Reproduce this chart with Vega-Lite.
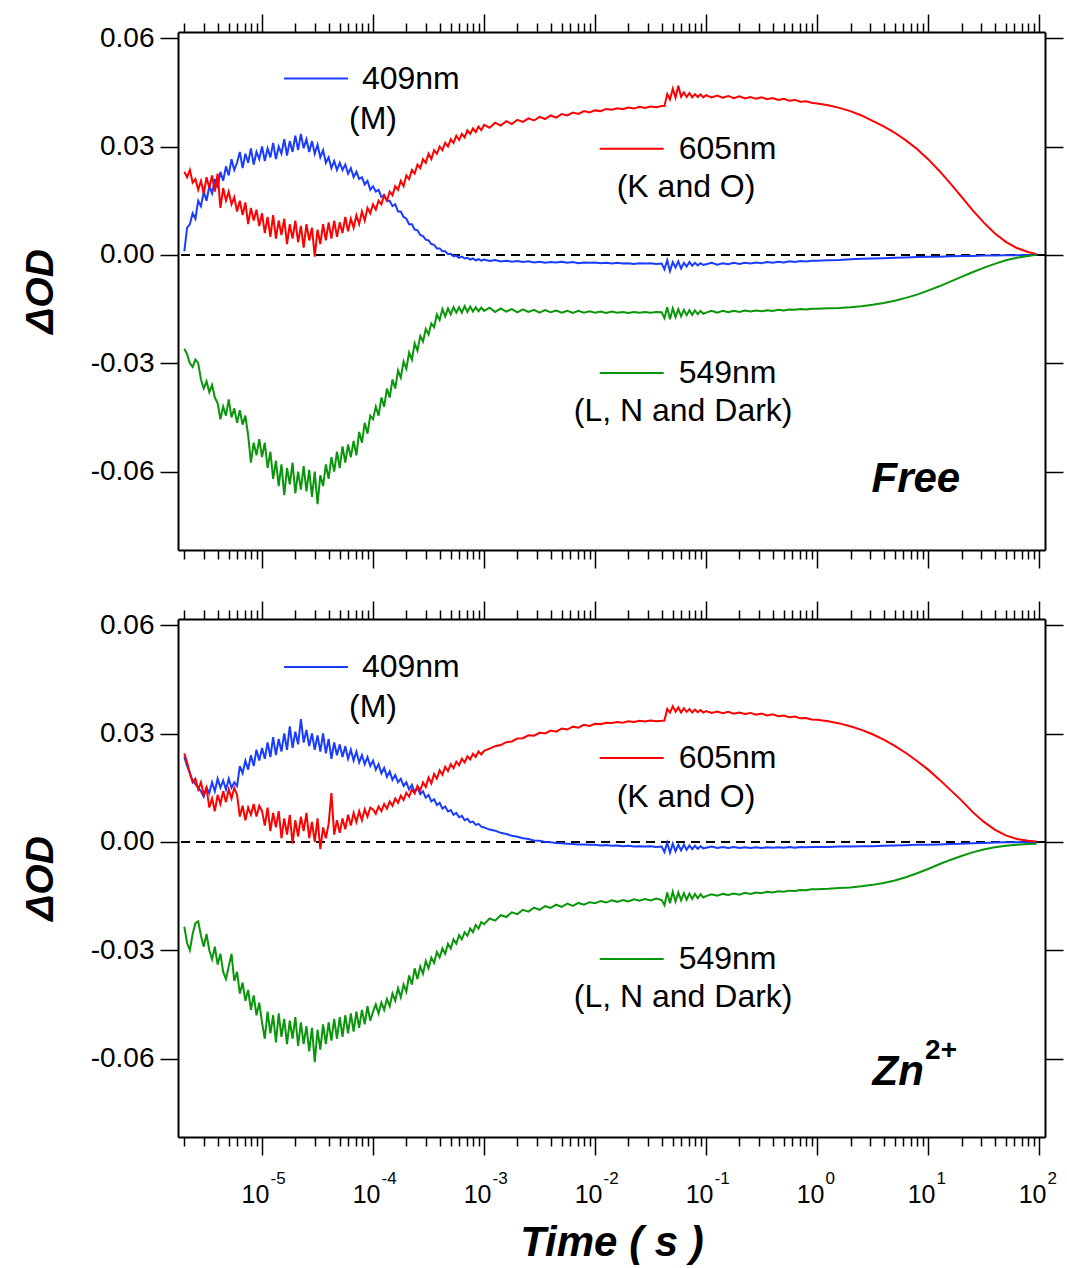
{
"$schema":"https://vega.github.io/schema/vega-lite/v6.json",
"background":"white",
"padding":{"left":21,"top":13,"right":0,"bottom":4},
"bounds":"flush",
"spacing":69,
"config":{"view":{"stroke":null},"axis":{"labelFont":"Liberation Sans","titleFont":"Liberation Sans"}},
"datasets":{
"zero":[{"v":0}],
"legs":[
{"panel":"free","k":"fb","t1":1.58e-5,"t2":5.94e-5,"v":0.0488},
{"panel":"free","k":"fr","t1":0.01101,"t2":0.0415,"v":0.0294},
{"panel":"free","k":"fg","t1":0.01101,"t2":0.0415,"v":-0.0327},
{"panel":"zn","k":"zb","t1":1.58e-5,"t2":5.94e-5,"v":0.0484},
{"panel":"zn","k":"zr","t1":0.01101,"t2":0.0415,"v":0.0232},
{"panel":"zn","k":"zg","t1":0.01101,"t2":0.0415,"v":-0.0324}],
"labs":[
{"panel":"free","t":7.94e-5,"v":0.0488,"label":"409nm"},
{"panel":"free","t":6.07e-5,"v":0.0377,"label":"(M)"},
{"panel":"free","t":0.0566,"v":0.0294,"label":"605nm"},
{"panel":"free","t":0.01566,"v":0.0188,"label":"(K and O)"},
{"panel":"free","t":0.0566,"v":-0.0327,"label":"549nm"},
{"panel":"free","t":0.00643,"v":-0.0432,"label":"(L, N and Dark)"},
{"panel":"zn","t":7.94e-5,"v":0.0484,"label":"409nm"},
{"panel":"zn","t":6.07e-5,"v":0.0373,"label":"(M)"},
{"panel":"zn","t":0.0566,"v":0.0232,"label":"605nm"},
{"panel":"zn","t":0.01566,"v":0.0124,"label":"(K and O)"},
{"panel":"zn","t":0.0566,"v":-0.0324,"label":"549nm"},
{"panel":"zn","t":0.00643,"v":-0.0429,"label":"(L, N and Dark)"}],
"tags":[{"panel":"free","t":3.09,"v":-0.062,"label":"Free"},{"panel":"zn","t":3.16,"v":-0.0636,"label":"Zn"}],
"sups":[{"panel":"zn","t":9.4,"v":-0.0578,"label":"2+"}],
"d":[
{"t":1.995e-6,"fb":0.0010,"fr":0.0230,"fg":-0.0260,"zb":0.0235,"zr":0.0245,"zg":-0.0235},
{"t":2.113e-6,"fb":0.0075,"fr":0.0215,"fg":-0.0275,"zb":0.0210,"zr":0.0220,"zg":-0.0280},
{"t":2.239e-6,"fb":0.0085,"fr":0.0235,"fg":-0.0300,"zb":0.0190,"zr":0.0190,"zg":-0.0300},
{"t":2.371e-6,"fb":0.0115,"fr":0.0200,"fg":-0.0310,"zb":0.0170,"zr":0.0165,"zg":-0.0255},
{"t":2.512e-6,"fb":0.0100,"fr":0.0210,"fg":-0.0290,"zb":0.0160,"zr":0.0175,"zg":-0.0225},
{"t":2.661e-6,"fb":0.0150,"fr":0.0180,"fg":-0.0300,"zb":0.0150,"zr":0.0145,"zg":-0.0220},
{"t":2.818e-6,"fb":0.0135,"fr":0.0205,"fg":-0.0345,"zb":0.0140,"zr":0.0165,"zg":-0.0260},
{"t":2.985e-6,"fb":0.0175,"fr":0.0170,"fg":-0.0370,"zb":0.0125,"zr":0.0130,"zg":-0.0290},
{"t":3.162e-6,"fb":0.0150,"fr":0.0215,"fg":-0.0350,"zb":0.0150,"zr":0.0150,"zg":-0.0255},
{"t":3.350e-6,"fb":0.0190,"fr":0.0185,"fg":-0.0380,"zb":0.0135,"zr":0.0095,"zg":-0.0300},
{"t":3.548e-6,"fb":0.0170,"fr":0.0220,"fg":-0.0360,"zb":0.0165,"zr":0.0120,"zg":-0.0325},
{"t":3.758e-6,"fb":0.0210,"fr":0.0175,"fg":-0.0395,"zb":0.0140,"zr":0.0085,"zg":-0.0290},
{"t":3.981e-6,"fb":0.0185,"fr":0.0225,"fg":-0.0410,"zb":0.0175,"zr":0.0130,"zg":-0.0340},
{"t":4.217e-6,"fb":0.0230,"fr":0.0130,"fg":-0.0455,"zb":0.0150,"zr":0.0105,"zg":-0.0310},
{"t":4.467e-6,"fb":0.0205,"fr":0.0185,"fg":-0.0420,"zb":0.0170,"zr":0.0140,"zg":-0.0360},
{"t":4.732e-6,"fb":0.0245,"fr":0.0150,"fg":-0.0445,"zb":0.0145,"zr":0.0110,"zg":-0.0380},
{"t":5.012e-6,"fb":0.0220,"fr":0.0175,"fg":-0.0400,"zb":0.0175,"zr":0.0145,"zg":-0.0345},
{"t":5.309e-6,"fb":0.0265,"fr":0.0140,"fg":-0.0450,"zb":0.0150,"zr":0.0120,"zg":-0.0310},
{"t":5.623e-6,"fb":0.0235,"fr":0.0160,"fg":-0.0425,"zb":0.0165,"zr":0.0150,"zg":-0.0385},
{"t":5.957e-6,"fb":0.0255,"fr":0.0120,"fg":-0.0465,"zb":0.0155,"zr":0.0130,"zg":-0.0360},
{"t":6.310e-6,"fb":0.0285,"fr":0.0150,"fg":-0.0430,"zb":0.0210,"zr":0.0070,"zg":-0.0420},
{"t":6.683e-6,"fb":0.0240,"fr":0.0110,"fg":-0.0470,"zb":0.0190,"zr":0.0100,"zg":-0.0390},
{"t":7.079e-6,"fb":0.0280,"fr":0.0145,"fg":-0.0445,"zb":0.0225,"zr":0.0060,"zg":-0.0440},
{"t":7.499e-6,"fb":0.0255,"fr":0.0085,"fg":-0.0500,"zb":0.0200,"zr":0.0095,"zg":-0.0410},
{"t":7.943e-6,"fb":0.0295,"fr":0.0130,"fg":-0.0575,"zb":0.0240,"zr":0.0075,"zg":-0.0465},
{"t":8.414e-6,"fb":0.0250,"fr":0.0095,"fg":-0.0520,"zb":0.0210,"zr":0.0105,"zg":-0.0425},
{"t":8.913e-6,"fb":0.0285,"fr":0.0125,"fg":-0.0555,"zb":0.0255,"zr":0.0070,"zg":-0.0480},
{"t":9.441e-6,"fb":0.0265,"fr":0.0080,"fg":-0.0510,"zb":0.0225,"zr":0.0100,"zg":-0.0445},
{"t":1.000e-5,"fb":0.0300,"fr":0.0115,"fg":-0.0560,"zb":0.0260,"zr":0.0085,"zg":-0.0500},
{"t":1.059e-5,"fb":0.0260,"fr":0.0060,"fg":-0.0520,"zb":0.0230,"zr":0.0045,"zg":-0.0545},
{"t":1.122e-5,"fb":0.0295,"fr":0.0105,"fg":-0.0590,"zb":0.0275,"zr":0.0095,"zg":-0.0470},
{"t":1.189e-5,"fb":0.0270,"fr":0.0050,"fg":-0.0545,"zb":0.0235,"zr":0.0030,"zg":-0.0530},
{"t":1.259e-5,"fb":0.0310,"fr":0.0110,"fg":-0.0620,"zb":0.0290,"zr":0.0080,"zg":-0.0480},
{"t":1.334e-5,"fb":0.0265,"fr":0.0045,"fg":-0.0570,"zb":0.0240,"zr":0.0040,"zg":-0.0555},
{"t":1.413e-5,"fb":0.0300,"fr":0.0095,"fg":-0.0640,"zb":0.0285,"zr":0.0085,"zg":-0.0475},
{"t":1.496e-5,"fb":0.0280,"fr":0.0055,"fg":-0.0580,"zb":0.0250,"zr":0.0010,"zg":-0.0540},
{"t":1.585e-5,"fb":0.0320,"fr":0.0100,"fg":-0.0665,"zb":0.0300,"zr":0.0065,"zg":-0.0490},
{"t":1.679e-5,"fb":0.0275,"fr":0.0030,"fg":-0.0590,"zb":0.0255,"zr":0.0020,"zg":-0.0560},
{"t":1.778e-5,"fb":0.0315,"fr":0.0085,"fg":-0.0635,"zb":0.0320,"zr":0.0075,"zg":-0.0495},
{"t":1.884e-5,"fb":0.0285,"fr":0.0045,"fg":-0.0575,"zb":0.0260,"zr":-0.0005,"zg":-0.0545},
{"t":1.995e-5,"fb":0.0330,"fr":0.0095,"fg":-0.0660,"zb":0.0305,"zr":0.0060,"zg":-0.0485},
{"t":2.113e-5,"fb":0.0290,"fr":0.0035,"fg":-0.0600,"zb":0.0270,"zr":0.0015,"zg":-0.0565},
{"t":2.239e-5,"fb":0.0335,"fr":0.0080,"fg":-0.0650,"zb":0.0340,"zr":0.0070,"zg":-0.0500},
{"t":2.371e-5,"fb":0.0295,"fr":0.0020,"fg":-0.0585,"zb":0.0275,"zr":0.0030,"zg":-0.0560},
{"t":2.512e-5,"fb":0.0320,"fr":0.0085,"fg":-0.0655,"zb":0.0310,"zr":0.0080,"zg":-0.0510},
{"t":2.661e-5,"fb":0.0285,"fr":0.0040,"fg":-0.0595,"zb":0.0265,"zr":0.0010,"zg":-0.0580},
{"t":2.818e-5,"fb":0.0315,"fr":0.0075,"fg":-0.0670,"zb":0.0300,"zr":0.0055,"zg":-0.0515},
{"t":2.985e-5,"fb":0.0280,"fr":-0.0005,"fg":-0.0600,"zb":0.0255,"zr":0.0000,"zg":-0.0610},
{"t":3.162e-5,"fb":0.0305,"fr":0.0070,"fg":-0.0690,"zb":0.0295,"zr":0.0065,"zg":-0.0520},
{"t":3.350e-5,"fb":0.0270,"fr":0.0030,"fg":-0.0610,"zb":0.0250,"zr":-0.0020,"zg":-0.0575},
{"t":3.548e-5,"fb":0.0290,"fr":0.0085,"fg":-0.0640,"zb":0.0300,"zr":0.0040,"zg":-0.0505},
{"t":3.758e-5,"fb":0.0255,"fr":0.0040,"fg":-0.0580,"zb":0.0245,"zr":0.0010,"zg":-0.0560},
{"t":3.981e-5,"fb":0.0270,"fr":0.0090,"fg":-0.0620,"zb":0.0285,"zr":0.0050,"zg":-0.0500},
{"t":4.217e-5,"fb":0.0240,"fr":0.0045,"fg":-0.0560,"zb":0.0230,"zr":0.0135,"zg":-0.0550},
{"t":4.467e-5,"fb":0.0260,"fr":0.0095,"fg":-0.0600,"zb":0.0275,"zr":0.0020,"zg":-0.0490},
{"t":4.732e-5,"fb":0.0235,"fr":0.0050,"fg":-0.0545,"zb":0.0240,"zr":0.0060,"zg":-0.0545},
{"t":5.012e-5,"fb":0.0255,"fr":0.0090,"fg":-0.0590,"zb":0.0270,"zr":0.0025,"zg":-0.0485},
{"t":5.309e-5,"fb":0.0235,"fr":0.0060,"fg":-0.0530,"zb":0.0235,"zr":0.0065,"zg":-0.0540},
{"t":5.623e-5,"fb":0.0250,"fr":0.0105,"fg":-0.0575,"zb":0.0265,"zr":0.0035,"zg":-0.0480},
{"t":5.957e-5,"fb":0.0225,"fr":0.0065,"fg":-0.0525,"zb":0.0230,"zr":0.0075,"zg":-0.0530},
{"t":6.310e-5,"fb":0.0240,"fr":0.0100,"fg":-0.0560,"zb":0.0255,"zr":0.0045,"zg":-0.0475},
{"t":6.683e-5,"fb":0.0215,"fr":0.0075,"fg":-0.0515,"zb":0.0225,"zr":0.0080,"zg":-0.0525},
{"t":7.079e-5,"fb":0.0230,"fr":0.0110,"fg":-0.0555,"zb":0.0250,"zr":0.0055,"zg":-0.0470},
{"t":7.499e-5,"fb":0.0210,"fr":0.0085,"fg":-0.0490,"zb":0.0220,"zr":0.0085,"zg":-0.0515},
{"t":7.943e-5,"fb":0.0215,"fr":0.0120,"fg":-0.0520,"zb":0.0240,"zr":0.0060,"zg":-0.0465},
{"t":8.414e-5,"fb":0.0195,"fr":0.0095,"fg":-0.0465,"zb":0.0215,"zr":0.0090,"zg":-0.0505},
{"t":8.913e-5,"fb":0.0205,"fr":0.0130,"fg":-0.0495,"zb":0.0235,"zr":0.0070,"zg":-0.0455},
{"t":9.441e-5,"fb":0.0180,"fr":0.0115,"fg":-0.0445,"zb":0.0210,"zr":0.0095,"zg":-0.0495},
{"t":1.000e-4,"fb":0.0190,"fr":0.0140,"fg":-0.0455,"zb":0.0225,"zr":0.0090,"zg":-0.0470},
{"t":1.059e-4,"fb":0.0175,"fr":0.0125,"fg":-0.0420,"zb":0.0200,"zr":0.0078,"zg":-0.0450},
{"t":1.122e-4,"fb":0.0180,"fr":0.0150,"fg":-0.0445,"zb":0.0215,"zr":0.0098,"zg":-0.0475},
{"t":1.189e-4,"fb":0.0160,"fr":0.0140,"fg":-0.0395,"zb":0.0190,"zr":0.0085,"zg":-0.0445},
{"t":1.259e-4,"fb":0.0165,"fr":0.0165,"fg":-0.0420,"zb":0.0205,"zr":0.0105,"zg":-0.0465},
{"t":1.334e-4,"fb":0.0150,"fr":0.0150,"fg":-0.0370,"zb":0.0180,"zr":0.0092,"zg":-0.0435},
{"t":1.413e-4,"fb":0.0150,"fr":0.0175,"fg":-0.0395,"zb":0.0195,"zr":0.0112,"zg":-0.0455},
{"t":1.496e-4,"fb":0.0135,"fr":0.0165,"fg":-0.0345,"zb":0.0172,"zr":0.0100,"zg":-0.0420},
{"t":1.585e-4,"fb":0.0140,"fr":0.0190,"fg":-0.0370,"zb":0.0185,"zr":0.0120,"zg":-0.0440},
{"t":1.679e-4,"fb":0.0120,"fr":0.0180,"fg":-0.0320,"zb":0.0165,"zr":0.0108,"zg":-0.0405},
{"t":1.778e-4,"fb":0.0120,"fr":0.0205,"fg":-0.0340,"zb":0.0175,"zr":0.0128,"zg":-0.0430},
{"t":1.884e-4,"fb":0.0105,"fr":0.0190,"fg":-0.0295,"zb":0.0155,"zr":0.0116,"zg":-0.0395},
{"t":1.995e-4,"fb":0.0100,"fr":0.0220,"fg":-0.0315,"zb":0.0165,"zr":0.0136,"zg":-0.0415},
{"t":2.113e-4,"fb":0.0085,"fr":0.0210,"fg":-0.0270,"zb":0.0145,"zr":0.0125,"zg":-0.0370},
{"t":2.239e-4,"fb":0.0085,"fr":0.0235,"fg":-0.0290,"zb":0.0158,"zr":0.0145,"zg":-0.0395},
{"t":2.371e-4,"fb":0.0070,"fr":0.0225,"fg":-0.0245,"zb":0.0138,"zr":0.0134,"zg":-0.0350},
{"t":2.512e-4,"fb":0.0068,"fr":0.0250,"fg":-0.0265,"zb":0.0150,"zr":0.0155,"zg":-0.0380},
{"t":2.661e-4,"fb":0.0055,"fr":0.0240,"fg":-0.0225,"zb":0.0132,"zr":0.0142,"zg":-0.0345},
{"t":2.818e-4,"fb":0.0052,"fr":0.0265,"fg":-0.0240,"zb":0.0140,"zr":0.0165,"zg":-0.0365},
{"t":2.985e-4,"fb":0.0042,"fr":0.0255,"fg":-0.0205,"zb":0.0122,"zr":0.0152,"zg":-0.0330},
{"t":3.162e-4,"fb":0.0040,"fr":0.0280,"fg":-0.0220,"zb":0.0130,"zr":0.0178,"zg":-0.0350},
{"t":3.350e-4,"fb":0.0030,"fr":0.0265,"fg":-0.0190,"zb":0.0112,"zr":0.0162,"zg":-0.0320},
{"t":3.548e-4,"fb":0.0028,"fr":0.0290,"fg":-0.0200,"zb":0.0118,"zr":0.0188,"zg":-0.0335},
{"t":3.758e-4,"fb":0.0018,"fr":0.0280,"fg":-0.0165,"zb":0.0102,"zr":0.0175,"zg":-0.0305},
{"t":3.981e-4,"fb":0.0018,"fr":0.0300,"fg":-0.0180,"zb":0.0108,"zr":0.0198,"zg":-0.0320},
{"t":4.217e-4,"fb":0.0010,"fr":0.0290,"fg":-0.0150,"zb":0.0092,"zr":0.0186,"zg":-0.0295},
{"t":4.467e-4,"fb":0.0010,"fr":0.0310,"fg":-0.0170,"zb":0.0098,"zr":0.0208,"zg":-0.0310},
{"t":4.732e-4,"fb":0.0002,"fr":0.0300,"fg":-0.0148,"zb":0.0084,"zr":0.0196,"zg":-0.0282},
{"t":5.012e-4,"fb":0.0003,"fr":0.0320,"fg":-0.0165,"zb":0.0088,"zr":0.0215,"zg":-0.0295},
{"t":5.309e-4,"fb":-0.0004,"fr":0.0310,"fg":-0.0145,"zb":0.0075,"zr":0.0204,"zg":-0.0270},
{"t":5.623e-4,"fb":-0.0002,"fr":0.0330,"fg":-0.0160,"zb":0.0080,"zr":0.0222,"zg":-0.0282},
{"t":5.957e-4,"fb":-0.0008,"fr":0.0318,"fg":-0.0145,"zb":0.0068,"zr":0.0212,"zg":-0.0258},
{"t":6.310e-4,"fb":-0.0005,"fr":0.0335,"fg":-0.0160,"zb":0.0072,"zr":0.0230,"zg":-0.0270},
{"t":6.683e-4,"fb":-0.0010,"fr":0.0325,"fg":-0.0142,"zb":0.0060,"zr":0.0220,"zg":-0.0250},
{"t":7.079e-4,"fb":-0.0008,"fr":0.0345,"fg":-0.0158,"zb":0.0064,"zr":0.0237,"zg":-0.0260},
{"t":7.499e-4,"fb":-0.0013,"fr":0.0335,"fg":-0.0143,"zb":0.0054,"zr":0.0228,"zg":-0.0240},
{"t":7.943e-4,"fb":-0.0010,"fr":0.0350,"fg":-0.0157,"zb":0.0056,"zr":0.0244,"zg":-0.0250},
{"t":8.414e-4,"fb":-0.0015,"fr":0.0340,"fg":-0.0145,"zb":0.0047,"zr":0.0235,"zg":-0.0230},
{"t":8.913e-4,"fb":-0.0012,"fr":0.0355,"fg":-0.0156,"zb":0.0050,"zr":0.0250,"zg":-0.0240},
{"t":9.441e-4,"fb":-0.0016,"fr":0.0345,"fg":-0.0146,"zb":0.0042,"zr":0.0242,"zg":-0.0222},
{"t":1.000e-3,"fb":-0.0013,"fr":0.0360,"fg":-0.0155,"zb":0.0040,"zr":0.0252,"zg":-0.0228},
{"t":1.122e-3,"fb":-0.0017,"fr":0.0352,"fg":-0.0146,"zb":0.0034,"zr":0.0258,"zg":-0.0212},
{"t":1.259e-3,"fb":-0.0014,"fr":0.0366,"fg":-0.0158,"zb":0.0031,"zr":0.0265,"zg":-0.0218},
{"t":1.413e-3,"fb":-0.0018,"fr":0.0358,"fg":-0.0148,"zb":0.0025,"zr":0.0268,"zg":-0.0203},
{"t":1.585e-3,"fb":-0.0016,"fr":0.0370,"fg":-0.0157,"zb":0.0022,"zr":0.0276,"zg":-0.0208},
{"t":1.778e-3,"fb":-0.0019,"fr":0.0362,"fg":-0.0150,"zb":0.0017,"zr":0.0278,"zg":-0.0195},
{"t":1.995e-3,"fb":-0.0017,"fr":0.0374,"fg":-0.0159,"zb":0.0014,"zr":0.0286,"zg":-0.0200},
{"t":2.239e-3,"fb":-0.0020,"fr":0.0368,"fg":-0.0151,"zb":0.0010,"zr":0.0287,"zg":-0.0188},
{"t":2.512e-3,"fb":-0.0018,"fr":0.0378,"fg":-0.0158,"zb":0.0008,"zr":0.0295,"zg":-0.0193},
{"t":2.818e-3,"fb":-0.0021,"fr":0.0372,"fg":-0.0152,"zb":0.0004,"zr":0.0294,"zg":-0.0182},
{"t":3.162e-3,"fb":-0.0019,"fr":0.0382,"fg":-0.0160,"zb":0.0003,"zr":0.0302,"zg":-0.0188},
{"t":3.548e-3,"fb":-0.0022,"fr":0.0376,"fg":-0.0153,"zb":0.0000,"zr":0.0300,"zg":-0.0178},
{"t":3.981e-3,"fb":-0.0020,"fr":0.0386,"fg":-0.0159,"zb":-0.0001,"zr":0.0308,"zg":-0.0183},
{"t":4.467e-3,"fb":-0.0021,"fr":0.0380,"fg":-0.0154,"zb":-0.0003,"zr":0.0305,"zg":-0.0174},
{"t":5.012e-3,"fb":-0.0019,"fr":0.0390,"fg":-0.0160,"zb":-0.0004,"zr":0.0314,"zg":-0.0180},
{"t":5.623e-3,"fb":-0.0022,"fr":0.0386,"fg":-0.0155,"zb":-0.0005,"zr":0.0311,"zg":-0.0171},
{"t":6.310e-3,"fb":-0.0020,"fr":0.0394,"fg":-0.0161,"zb":-0.0006,"zr":0.0319,"zg":-0.0177},
{"t":7.079e-3,"fb":-0.0023,"fr":0.0390,"fg":-0.0155,"zb":-0.0007,"zr":0.0316,"zg":-0.0169},
{"t":7.943e-3,"fb":-0.0021,"fr":0.0398,"fg":-0.0160,"zb":-0.0007,"zr":0.0324,"zg":-0.0174},
{"t":8.913e-3,"fb":-0.0022,"fr":0.0394,"fg":-0.0156,"zb":-0.0008,"zr":0.0321,"zg":-0.0167},
{"t":0.01000,"fb":-0.0021,"fr":0.0400,"fg":-0.0160,"zb":-0.0008,"zr":0.0327,"zg":-0.0170},
{"t":0.01122,"fb":-0.0023,"fr":0.0398,"fg":-0.0157,"zb":-0.0010,"zr":0.0326,"zg":-0.0164},
{"t":0.01259,"fb":-0.0022,"fr":0.0404,"fg":-0.0161,"zb":-0.0009,"zr":0.0330,"zg":-0.0168},
{"t":0.01413,"fb":-0.0024,"fr":0.0402,"fg":-0.0157,"zb":-0.0011,"zr":0.0329,"zg":-0.0162},
{"t":0.01585,"fb":-0.0022,"fr":0.0406,"fg":-0.0160,"zb":-0.0010,"zr":0.0332,"zg":-0.0166},
{"t":0.01778,"fb":-0.0024,"fr":0.0403,"fg":-0.0158,"zb":-0.0012,"zr":0.0330,"zg":-0.0161},
{"t":0.01995,"fb":-0.0023,"fr":0.0408,"fg":-0.0161,"zb":-0.0011,"zr":0.0334,"zg":-0.0165},
{"t":0.02239,"fb":-0.0025,"fr":0.0405,"fg":-0.0158,"zb":-0.0013,"zr":0.0332,"zg":-0.0159},
{"t":0.02512,"fb":-0.0023,"fr":0.0410,"fg":-0.0160,"zb":-0.0012,"zr":0.0335,"zg":-0.0163},
{"t":0.02818,"fb":-0.0024,"fr":0.0407,"fg":-0.0158,"zb":-0.0013,"zr":0.0333,"zg":-0.0158},
{"t":0.03162,"fb":-0.0023,"fr":0.0411,"fg":-0.0160,"zb":-0.0012,"zr":0.0336,"zg":-0.0162},
{"t":0.03548,"fb":-0.0025,"fr":0.0409,"fg":-0.0158,"zb":-0.0014,"zr":0.0334,"zg":-0.0157},
{"t":0.03981,"fb":-0.0024,"fr":0.0412,"fg":-0.0159,"zb":-0.0013,"zr":0.0335,"zg":-0.0161},
{"t":0.04217,"fb":-0.0040,"fr":0.0412,"fg":-0.0175,"zb":-0.0028,"zr":0.0336,"zg":-0.0175},
{"t":0.04467,"fb":-0.0015,"fr":0.0445,"fg":-0.0145,"zb":-0.0002,"zr":0.0368,"zg":-0.0140},
{"t":0.04732,"fb":-0.0045,"fr":0.0430,"fg":-0.0178,"zb":-0.0030,"zr":0.0358,"zg":-0.0170},
{"t":0.05012,"fb":-0.0020,"fr":0.0460,"fg":-0.0148,"zb":-0.0005,"zr":0.0375,"zg":-0.0138},
{"t":0.05309,"fb":-0.0035,"fr":0.0435,"fg":-0.0172,"zb":-0.0026,"zr":0.0360,"zg":-0.0165},
{"t":0.05623,"fb":-0.0018,"fr":0.0468,"fg":-0.0150,"zb":-0.0008,"zr":0.0372,"zg":-0.0140},
{"t":0.05957,"fb":-0.0038,"fr":0.0438,"fg":-0.0170,"zb":-0.0024,"zr":0.0358,"zg":-0.0162},
{"t":0.06310,"fb":-0.0022,"fr":0.0450,"fg":-0.0152,"zb":-0.0008,"zr":0.0370,"zg":-0.0142},
{"t":0.06683,"fb":-0.0032,"fr":0.0437,"fg":-0.0167,"zb":-0.0022,"zr":0.0360,"zg":-0.0160},
{"t":0.07079,"fb":-0.0020,"fr":0.0448,"fg":-0.0153,"zb":-0.0010,"zr":0.0368,"zg":-0.0143},
{"t":0.07499,"fb":-0.0030,"fr":0.0436,"fg":-0.0166,"zb":-0.0020,"zr":0.0358,"zg":-0.0158},
{"t":0.07943,"fb":-0.0022,"fr":0.0445,"fg":-0.0154,"zb":-0.0011,"zr":0.0366,"zg":-0.0144},
{"t":0.08414,"fb":-0.0029,"fr":0.0437,"fg":-0.0164,"zb":-0.0019,"zr":0.0359,"zg":-0.0156},
{"t":0.08913,"fb":-0.0023,"fr":0.0444,"fg":-0.0155,"zb":-0.0012,"zr":0.0365,"zg":-0.0145},
{"t":0.09441,"fb":-0.0028,"fr":0.0436,"fg":-0.0163,"zb":-0.0018,"zr":0.0358,"zg":-0.0154},
{"t":0.1000,"fb":-0.0026,"fr":0.0442,"fg":-0.0160,"zb":-0.0016,"zr":0.0362,"zg":-0.0150},
{"t":0.1122,"fb":-0.0022,"fr":0.0436,"fg":-0.0155,"zb":-0.0013,"zr":0.0357,"zg":-0.0145},
{"t":0.1259,"fb":-0.0027,"fr":0.0441,"fg":-0.0160,"zb":-0.0017,"zr":0.0361,"zg":-0.0149},
{"t":0.1413,"fb":-0.0023,"fr":0.0435,"fg":-0.0155,"zb":-0.0014,"zr":0.0356,"zg":-0.0144},
{"t":0.1585,"fb":-0.0026,"fr":0.0440,"fg":-0.0159,"zb":-0.0017,"zr":0.0360,"zg":-0.0147},
{"t":0.1778,"fb":-0.0022,"fr":0.0434,"fg":-0.0155,"zb":-0.0014,"zr":0.0355,"zg":-0.0143},
{"t":0.1995,"fb":-0.0025,"fr":0.0439,"fg":-0.0158,"zb":-0.0017,"zr":0.0358,"zg":-0.0146},
{"t":0.2239,"fb":-0.0022,"fr":0.0433,"fg":-0.0154,"zb":-0.0015,"zr":0.0354,"zg":-0.0141},
{"t":0.2512,"fb":-0.0024,"fr":0.0437,"fg":-0.0157,"zb":-0.0017,"zr":0.0357,"zg":-0.0144},
{"t":0.2818,"fb":-0.0021,"fr":0.0432,"fg":-0.0154,"zb":-0.0015,"zr":0.0352,"zg":-0.0140},
{"t":0.3162,"fb":-0.0023,"fr":0.0436,"fg":-0.0156,"zb":-0.0017,"zr":0.0355,"zg":-0.0142},
{"t":0.3548,"fb":-0.0020,"fr":0.0431,"fg":-0.0153,"zb":-0.0015,"zr":0.0350,"zg":-0.0138},
{"t":0.3981,"fb":-0.0022,"fr":0.0434,"fg":-0.0155,"zb":-0.0016,"zr":0.0353,"zg":-0.0140},
{"t":0.4467,"fb":-0.0019,"fr":0.0429,"fg":-0.0152,"zb":-0.0015,"zr":0.0348,"zg":-0.0137},
{"t":0.5012,"fb":-0.0021,"fr":0.0432,"fg":-0.0154,"zb":-0.0016,"zr":0.0350,"zg":-0.0138},
{"t":0.5623,"fb":-0.0018,"fr":0.0427,"fg":-0.0151,"zb":-0.0014,"zr":0.0345,"zg":-0.0135},
{"t":0.6310,"fb":-0.0020,"fr":0.0429,"fg":-0.0152,"zb":-0.0016,"zr":0.0347,"zg":-0.0136},
{"t":0.7079,"fb":-0.0017,"fr":0.0424,"fg":-0.0150,"zb":-0.0014,"zr":0.0342,"zg":-0.0133},
{"t":0.7943,"fb":-0.0018,"fr":0.0425,"fg":-0.0151,"zb":-0.0015,"zr":0.0343,"zg":-0.0134},
{"t":0.8913,"fb":-0.0016,"fr":0.0421,"fg":-0.0149,"zb":-0.0014,"zr":0.0339,"zg":-0.0131},
{"t":1.000,"fb":-0.0016,"fr":0.0419,"fg":-0.0149,"zb":-0.0014,"zr":0.0338,"zg":-0.0131},
{"t":1.259,"fb":-0.0015,"fr":0.0414,"fg":-0.0148,"zb":-0.0014,"zr":0.0334,"zg":-0.0130},
{"t":1.585,"fb":-0.0014,"fr":0.0407,"fg":-0.0147,"zb":-0.0013,"zr":0.0328,"zg":-0.0128},
{"t":1.995,"fb":-0.0012,"fr":0.0398,"fg":-0.0145,"zb":-0.0013,"zr":0.0320,"zg":-0.0126},
{"t":2.512,"fb":-0.0011,"fr":0.0386,"fg":-0.0142,"zb":-0.0012,"zr":0.0310,"zg":-0.0123},
{"t":3.162,"fb":-0.0010,"fr":0.0371,"fg":-0.0138,"zb":-0.0012,"zr":0.0298,"zg":-0.0119},
{"t":3.981,"fb":-0.0009,"fr":0.0356,"fg":-0.0133,"zb":-0.0011,"zr":0.0283,"zg":-0.0114},
{"t":5.012,"fb":-0.0008,"fr":0.0338,"fg":-0.0127,"zb":-0.0010,"zr":0.0266,"zg":-0.0107},
{"t":6.310,"fb":-0.0007,"fr":0.0317,"fg":-0.0119,"zb":-0.0009,"zr":0.0246,"zg":-0.0098},
{"t":7.943,"fb":-0.0006,"fr":0.0293,"fg":-0.0110,"zb":-0.0008,"zr":0.0224,"zg":-0.0087},
{"t":10.00,"fb":-0.0005,"fr":0.0265,"fg":-0.0099,"zb":-0.0008,"zr":0.0200,"zg":-0.0075},
{"t":12.59,"fb":-0.0005,"fr":0.0233,"fg":-0.0087,"zb":-0.0007,"zr":0.0173,"zg":-0.0062},
{"t":15.85,"fb":-0.0004,"fr":0.0198,"fg":-0.0074,"zb":-0.0006,"zr":0.0144,"zg":-0.0050},
{"t":19.95,"fb":-0.0003,"fr":0.0161,"fg":-0.0061,"zb":-0.0005,"zr":0.0115,"zg":-0.0039},
{"t":25.12,"fb":-0.0003,"fr":0.0124,"fg":-0.0048,"zb":-0.0004,"zr":0.0083,"zg":-0.0029},
{"t":31.62,"fb":-0.0002,"fr":0.0090,"fg":-0.0036,"zb":-0.0003,"zr":0.0056,"zg":-0.0021},
{"t":39.81,"fb":-0.0002,"fr":0.0060,"fg":-0.0025,"zb":-0.0002,"zr":0.0034,"zg":-0.0015},
{"t":50.12,"fb":-0.0001,"fr":0.0036,"fg":-0.0015,"zb":-0.0001,"zr":0.0018,"zg":-0.0011},
{"t":63.10,"fb":-0.0001,"fr":0.0019,"fg":-0.0008,"zb":-0.0001,"zr":0.0008,"zg":-0.0008},
{"t":79.43,"fb":0.0000,"fr":0.0008,"fg":-0.0003,"zb":0.0000,"zr":0.0003,"zg":-0.0006},
{"t":95.0,"fb":0.0000,"fr":0.0002,"fg":0.0000,"zb":0.0000,"zr":0.0001,"zg":-0.0005}
]},
"vconcat":[
{
"width":867,"height":518,
"layer":[
{"data":{"name":"zero"},"mark":{"type":"rule","strokeDash":[9,6],"strokeWidth":2,"color":"#000000"},
 "encoding":{"y":{"field":"v","type":"quantitative","scale":{"domain":[-0.0817,0.0617],"nice":false,"zero":false},"axis":null}}},
{"data":{"name":"d"},"transform":[{"fold":["fb","fr","fg"],"as":["k","v"]}],
 "mark":{"type":"line","strokeWidth":2},
 "encoding":{
  "x":{"field":"t","type":"quantitative","scale":{"type":"log","domain":[1.75e-6,113],"nice":false},
   "axis":{"orient":"bottom","values":[2e-6,3e-6,4e-6,5e-6,6e-6,7e-6,8e-6,9e-6,1e-5,2e-5,3e-5,4e-5,5e-5,6e-5,7e-5,8e-5,9e-5,1e-4,2e-4,3e-4,4e-4,5e-4,6e-4,7e-4,8e-4,9e-4,0.001,0.002,0.003,0.004,0.005,0.006,0.007,0.008,0.009,0.01,0.02,0.03,0.04,0.05,0.06,0.07,0.08,0.09,0.1,0.2,0.3,0.4,0.5,0.6,0.7,0.8,0.9,1,2,3,4,5,6,7,8,9,10,20,30,40,50,60,70,80,90,100],
    "labels":false,"title":null,"grid":false,"domainColor":"#000000","domainWidth":2,"tickColor":"#000000","tickWidth":1.5,
    "tickSize":{"condition":{"test":"abs(log(datum.value)/LN10 - round(log(datum.value)/LN10)) < 0.01","value":18},"value":9}}},
  "y":{"field":"v","type":"quantitative","scale":{"domain":[-0.0817,0.0617],"nice":false,"zero":false},
   "axis":{"orient":"left","values":[-0.06,-0.03,0,0.03,0.06],"labelExpr":"datum.value < 0 ? '-' + format(-datum.value, '.2f') : format(datum.value, '.2f')",
    "labelFontSize":28,"labelColor":"#000000","labelPadding":6,"tickSize":18,"tickWidth":1.5,"tickColor":"#000000","domainColor":"#000000","domainWidth":2,"grid":false,
    "title":"ΔOD","titleFontSize":39,"titleFontStyle":"italic","titleFontWeight":"bold","titleColor":"#000000","titlePadding":30}},
  "color":{"field":"k","type":"nominal","scale":{"domain":["fb","fr","fg","zb","zr","zg"],"range":["#1a3cff","#ff0000","#0a960a","#1a3cff","#ff0000","#0a960a"]},"legend":null}}},
{"data":{"name":"legs"},"transform":[{"filter":"datum.panel == 'free'"}],
 "mark":{"type":"rule","strokeWidth":2},
 "encoding":{
  "x":{"field":"t1","type":"quantitative","scale":{"type":"log","domain":[1.75e-6,113],"nice":false},
   "axis":{"orient":"top","values":[2e-6,3e-6,4e-6,5e-6,6e-6,7e-6,8e-6,9e-6,1e-5,2e-5,3e-5,4e-5,5e-5,6e-5,7e-5,8e-5,9e-5,1e-4,2e-4,3e-4,4e-4,5e-4,6e-4,7e-4,8e-4,9e-4,0.001,0.002,0.003,0.004,0.005,0.006,0.007,0.008,0.009,0.01,0.02,0.03,0.04,0.05,0.06,0.07,0.08,0.09,0.1,0.2,0.3,0.4,0.5,0.6,0.7,0.8,0.9,1,2,3,4,5,6,7,8,9,10,20,30,40,50,60,70,80,90,100],
    "labels":false,"title":null,"grid":false,"domainColor":"#000000","domainWidth":2,"tickColor":"#000000","tickWidth":1.5,
    "tickSize":{"condition":{"test":"abs(log(datum.value)/LN10 - round(log(datum.value)/LN10)) < 0.01","value":18},"value":9}}},
  "x2":{"field":"t2"},
  "y":{"field":"v","type":"quantitative","scale":{"domain":[-0.0817,0.0617],"nice":false,"zero":false},
   "axis":{"orient":"right","values":[-0.06,-0.03,0,0.03,0.06],"labels":false,"title":null,"tickSize":18,"tickWidth":1.5,"tickColor":"#000000","domainColor":"#000000","domainWidth":2,"grid":false}},
  "color":{"field":"k","type":"nominal","scale":{"domain":["fb","fr","fg","zb","zr","zg"],"range":["#1a3cff","#ff0000","#0a960a","#1a3cff","#ff0000","#0a960a"]},"legend":null}}},
{"data":{"name":"labs"},"transform":[{"filter":"datum.panel == 'free'"}],
 "mark":{"type":"text","align":"left","baseline":"middle","fontSize":32,"font":"Liberation Sans","color":"#000000"},
 "encoding":{
  "x":{"field":"t","type":"quantitative","scale":{"type":"log","domain":[1.75e-6,113],"nice":false},"axis":null},
  "y":{"field":"v","type":"quantitative","scale":{"domain":[-0.0817,0.0617],"nice":false,"zero":false},"axis":null},
  "text":{"field":"label"}}},
{"data":{"name":"tags"},"transform":[{"filter":"datum.panel == 'free'"}],
 "mark":{"type":"text","align":"left","baseline":"middle","fontSize":42,"font":"Liberation Sans","fontStyle":"italic","fontWeight":"bold","color":"#000000"},
 "encoding":{
  "x":{"field":"t","type":"quantitative","scale":{"type":"log","domain":[1.75e-6,113],"nice":false},"axis":null},
  "y":{"field":"v","type":"quantitative","scale":{"domain":[-0.0817,0.0617],"nice":false,"zero":false},"axis":null},
  "text":{"field":"label"}}}
],
"resolve":{"axis":{"x":"independent","y":"independent"}}
},
{
"width":867,"height":518,
"layer":[
{"data":{"name":"zero"},"mark":{"type":"rule","strokeDash":[9,6],"strokeWidth":2,"color":"#000000"},
 "encoding":{"y":{"field":"v","type":"quantitative","scale":{"domain":[-0.0817,0.0617],"nice":false,"zero":false},"axis":null}}},
{"data":{"name":"d"},"transform":[{"fold":["zb","zr","zg"],"as":["k","v"]}],
 "mark":{"type":"line","strokeWidth":2},
 "encoding":{
  "x":{"field":"t","type":"quantitative","scale":{"type":"log","domain":[1.75e-6,113],"nice":false},
   "axis":{"orient":"bottom","values":[2e-6,3e-6,4e-6,5e-6,6e-6,7e-6,8e-6,9e-6,1e-5,2e-5,3e-5,4e-5,5e-5,6e-5,7e-5,8e-5,9e-5,1e-4,2e-4,3e-4,4e-4,5e-4,6e-4,7e-4,8e-4,9e-4,0.001,0.002,0.003,0.004,0.005,0.006,0.007,0.008,0.009,0.01,0.02,0.03,0.04,0.05,0.06,0.07,0.08,0.09,0.1,0.2,0.3,0.4,0.5,0.6,0.7,0.8,0.9,1,2,3,4,5,6,7,8,9,10,20,30,40,50,60,70,80,90,100],
    "labelExpr":"abs(log(datum.value)/LN10 - round(log(datum.value)/LN10)) < 0.01 ? '10' : ''",
    "labelFontSize":25,"labelColor":"#000000","labelPadding":27,"labelOffset":-7,"labelOverlap":false,"labelFlush":false,"labelBound":false,
    "title":"Time ( s )","titleFontSize":42,"titleFontStyle":"italic","titleFontWeight":"bold","titleColor":"#000000","titlePadding":15,
    "grid":false,"domainColor":"#000000","domainWidth":2,"tickColor":"#000000","tickWidth":1.5,
    "tickSize":{"condition":{"test":"abs(log(datum.value)/LN10 - round(log(datum.value)/LN10)) < 0.01","value":18},"value":9}}},
  "y":{"field":"v","type":"quantitative","scale":{"domain":[-0.0817,0.0617],"nice":false,"zero":false},
   "axis":{"orient":"left","values":[-0.06,-0.03,0,0.03,0.06],"labelExpr":"datum.value < 0 ? '-' + format(-datum.value, '.2f') : format(datum.value, '.2f')",
    "labelFontSize":28,"labelColor":"#000000","labelPadding":6,"tickSize":18,"tickWidth":1.5,"tickColor":"#000000","domainColor":"#000000","domainWidth":2,"grid":false,
    "title":"ΔOD","titleFontSize":39,"titleFontStyle":"italic","titleFontWeight":"bold","titleColor":"#000000","titlePadding":30}},
  "color":{"field":"k","type":"nominal","scale":{"domain":["fb","fr","fg","zb","zr","zg"],"range":["#1a3cff","#ff0000","#0a960a","#1a3cff","#ff0000","#0a960a"]},"legend":null}}},
{"data":{"name":"legs"},"transform":[{"filter":"datum.panel == 'zn'"}],
 "mark":{"type":"rule","strokeWidth":2},
 "encoding":{
  "x":{"field":"t1","type":"quantitative","scale":{"type":"log","domain":[1.75e-6,113],"nice":false},
   "axis":{"orient":"top","values":[2e-6,3e-6,4e-6,5e-6,6e-6,7e-6,8e-6,9e-6,1e-5,2e-5,3e-5,4e-5,5e-5,6e-5,7e-5,8e-5,9e-5,1e-4,2e-4,3e-4,4e-4,5e-4,6e-4,7e-4,8e-4,9e-4,0.001,0.002,0.003,0.004,0.005,0.006,0.007,0.008,0.009,0.01,0.02,0.03,0.04,0.05,0.06,0.07,0.08,0.09,0.1,0.2,0.3,0.4,0.5,0.6,0.7,0.8,0.9,1,2,3,4,5,6,7,8,9,10,20,30,40,50,60,70,80,90,100],
    "labels":false,"title":null,"grid":false,"domainColor":"#000000","domainWidth":2,"tickColor":"#000000","tickWidth":1.5,
    "tickSize":{"condition":{"test":"abs(log(datum.value)/LN10 - round(log(datum.value)/LN10)) < 0.01","value":18},"value":9}}},
  "x2":{"field":"t2"},
  "y":{"field":"v","type":"quantitative","scale":{"domain":[-0.0817,0.0617],"nice":false,"zero":false},
   "axis":{"orient":"right","values":[-0.06,-0.03,0,0.03,0.06],"labels":false,"title":null,"tickSize":18,"tickWidth":1.5,"tickColor":"#000000","domainColor":"#000000","domainWidth":2,"grid":false}},
  "color":{"field":"k","type":"nominal","scale":{"domain":["fb","fr","fg","zb","zr","zg"],"range":["#1a3cff","#ff0000","#0a960a","#1a3cff","#ff0000","#0a960a"]},"legend":null}}},
{"data":{"name":"labs"},"transform":[{"filter":"datum.panel == 'zn'"}],
 "mark":{"type":"text","align":"left","baseline":"middle","fontSize":32,"font":"Liberation Sans","color":"#000000"},
 "encoding":{
  "x":{"field":"t","type":"quantitative","scale":{"type":"log","domain":[1.75e-6,113],"nice":false},
   "axis":{"orient":"bottom","values":[1e-5,1e-4,0.001,0.01,0.1,1,10,100],
    "labelExpr":"(round(log(datum.value)/LN10) < 0 ? '-' : '') + abs(round(log(datum.value)/LN10))",
    "labelFontSize":17,"labelColor":"#000000","labelAlign":"left","labelOffset":8,"labelPadding":33,"ticks":false,"tickSize":0,"domain":false,"grid":false,"title":null,
    "labelOverlap":false,"labelFlush":false,"labelBound":false}},
  "y":{"field":"v","type":"quantitative","scale":{"domain":[-0.0817,0.0617],"nice":false,"zero":false},"axis":null},
  "text":{"field":"label"}}},
{"data":{"name":"tags"},"transform":[{"filter":"datum.panel == 'zn'"}],
 "mark":{"type":"text","align":"left","baseline":"middle","fontSize":42,"font":"Liberation Sans","fontStyle":"italic","fontWeight":"bold","color":"#000000"},
 "encoding":{
  "x":{"field":"t","type":"quantitative","scale":{"type":"log","domain":[1.75e-6,113],"nice":false},"axis":null},
  "y":{"field":"v","type":"quantitative","scale":{"domain":[-0.0817,0.0617],"nice":false,"zero":false},"axis":null},
  "text":{"field":"label"}}},
{"data":{"name":"sups"},"transform":[{"filter":"datum.panel == 'zn'"}],
 "mark":{"type":"text","align":"left","baseline":"middle","fontSize":28,"font":"Liberation Sans","fontWeight":"bold","color":"#000000"},
 "encoding":{
  "x":{"field":"t","type":"quantitative","scale":{"type":"log","domain":[1.75e-6,113],"nice":false},"axis":null},
  "y":{"field":"v","type":"quantitative","scale":{"domain":[-0.0817,0.0617],"nice":false,"zero":false},"axis":null},
  "text":{"field":"label"}}}
],
"resolve":{"axis":{"x":"independent","y":"independent"}}
}
]
}
